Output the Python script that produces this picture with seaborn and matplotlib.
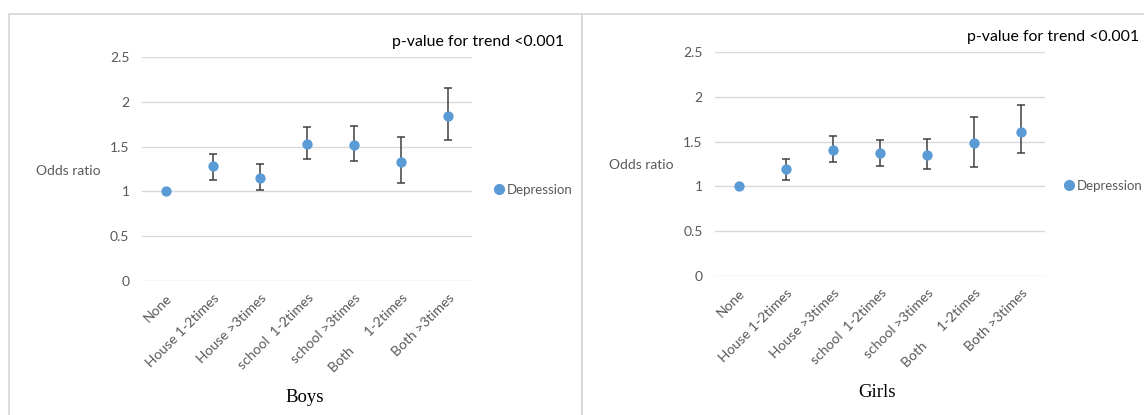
import numpy as np
import pandas as pd
import seaborn as sns
import matplotlib.pyplot as plt
from matplotlib.patches import Rectangle
from matplotlib.lines import Line2D

groups = ["None", "House 1-2times", "House >3times", "school  1-2times",
          "school >3times", "Both      1-2times", "Both >3times"]

boys_or = [1.0, 1.28, 1.15, 1.53, 1.52, 1.33, 1.84]
boys_lo = [1.0, 1.13, 1.02, 1.36, 1.34, 1.09, 1.57]
boys_hi = [1.0, 1.42, 1.31, 1.72, 1.73, 1.61, 2.16]

girls_or = [1.0, 1.19, 1.41, 1.37, 1.35, 1.48, 1.61]
girls_lo = [1.0, 1.07, 1.27, 1.23, 1.19, 1.22, 1.37]
girls_hi = [1.0, 1.31, 1.56, 1.52, 1.53, 1.78, 1.91]

yticks = [0, 0.5, 1, 1.5, 2, 2.5]
ytick_labels = ["0", "0.5", "1", "1.5", "2", "2.5"]

sns.set_style("white")
plt.rcParams['font.family'] = ['Lato', 'DejaVu Sans']

W, H = 1144, 415
fig = plt.figure(figsize=(W / 100, H / 100), dpi=100)

blue = "#5B9BD5"
grey_txt = "#595959"


def px(x, y):
    return x / W, 1 - y / H


panels = [
    dict(name="Boys", odds=boys_or, lo=boys_lo, hi=boys_hi,
         ax=(142, 57.3, 472, 280.7), pval=(392, 42), ylab=(36, 171),
         leg=(492, 190), title=(305, 397)),
    dict(name="Girls", odds=girls_or, lo=girls_lo, hi=girls_hi,
         ax=(715, 52.3, 1045, 275.7), pval=(967, 37), ylab=(609, 165),
         leg=(1062, 186), title=(877, 392)),
]

# panel frames
fig.patches.append(Rectangle(px(9, 420), (582 - 9) / W, (420 - 14) / H,
                             transform=fig.transFigure, fill=False,
                             edgecolor="#D9D9D9", lw=1.3))
fig.patches.append(Rectangle(px(582, 420), (1150 - 582) / W, (420 - 14) / H,
                             transform=fig.transFigure, fill=False,
                             edgecolor="#D9D9D9", lw=1.3))

for p in panels:
    x0, y0, x1, y1 = p["ax"]
    ax = fig.add_axes([x0 / W, 1 - y1 / H, (x1 - x0) / W, (y1 - y0) / H])
    df = pd.DataFrame({"group": groups, "odds": p["odds"]})
    pos = np.arange(len(groups))
    err = [np.array(p["odds"]) - np.array(p["lo"]),
           np.array(p["hi"]) - np.array(p["odds"])]
    ax.errorbar(pos, p["odds"], yerr=err, fmt="none", ecolor="#404040",
                elinewidth=1.1, capsize=3, capthick=1.1, clip_on=False, zorder=2)
    sns.scatterplot(data=df, x="group", y="odds", ax=ax, color=blue, s=55,
                    edgecolor=blue, linewidth=0, zorder=3, clip_on=False)
    ax.set_xlim(-0.5, len(groups) - 0.5)
    ax.set_ylim(0, 2.5)
    ax.set_yticks(yticks)
    ax.set_yticklabels(ytick_labels)
    ax.set_xticks(pos)
    ax.set_xticklabels(groups, rotation=45, ha="right", rotation_mode="anchor")
    ax.tick_params(axis="y", length=0, pad=9, labelsize=10, labelcolor=grey_txt)
    ax.tick_params(axis="x", length=0, pad=8, labelsize=10, labelcolor=grey_txt)
    ax.grid(axis="y", color="#D9D9D9", lw=1)
    ax.set_axisbelow(True)
    for s in ax.spines.values():
        s.set_visible(False)
    ax.set_xlabel("")
    ax.set_ylabel("")

    fig.text(*px(*p["pval"]), "p-value for trend <0.001", fontsize=11.4,
             color="black", va="center", ha="left")
    fig.text(*px(*p["ylab"]), "Odds ratio", fontsize=10, color=grey_txt,
             va="center", ha="left")
    fig.text(*px(*p["title"]), p["name"], fontsize=13.5, color="black",
             va="center", ha="center", family="Liberation Serif")
    handle = Line2D([], [], marker="o", color=blue, ls="none", markersize=7)
    fig.legend([handle], ["Depression"], loc="center left",
               bbox_to_anchor=px(*p["leg"]), frameon=False, fontsize=9.5,
               labelcolor=grey_txt, handletextpad=0.0, borderpad=0,
               borderaxespad=0, handlelength=1.1)

fig.savefig("out.png", dpi=100)
